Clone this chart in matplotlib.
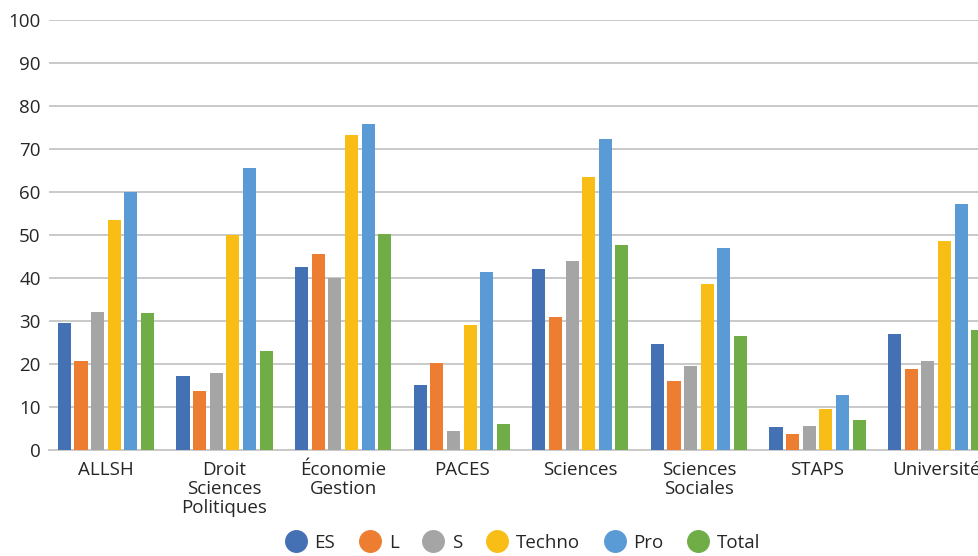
import matplotlib
matplotlib.use("Agg")
import matplotlib.pyplot as plt
from matplotlib.lines import Line2D
import numpy as np

categories = ["ALLSH", "Droit\nSciences\nPolitiques", "Économie\nGestion", "PACES",
              "Sciences", "Sciences\nSociales", "STAPS", "Université"]
series_names = ["ES", "L", "S", "Techno", "Pro", "Total"]
es = [29.5, 17.2, 42.5, 15.1, 42.1, 24.6, 5.3, 27.0]
l_ = [20.7, 13.7, 45.5, 20.2, 30.9, 16.0, 3.7, 18.8]
s_ = [32.1, 17.9, 40.0, 4.4, 43.9, 19.5, 5.5, 20.7]
techno = [53.4, 50.0, 73.2, 29.0, 63.4, 38.6, 9.5, 48.6]
pro = [60.0, 65.5, 75.8, 41.4, 72.3, 46.9, 12.8, 57.2]
total = [31.8, 23.0, 50.2, 6.0, 47.6, 26.5, 7.0, 27.9]
yticks = [0, 10, 20, 30, 40, 50, 60, 70, 80, 90, 100]

colors = ["#4470B4", "#ED7D31", "#A5A5A5", "#F8BE16", "#5B9BD5", "#70AD47"]
values = [es, l_, s_, techno, pro, total]

plt.rcParams['font.family'] = ['Open Sans', 'DejaVu Sans']

W, H = 979, 556
fig = plt.figure(figsize=(W / 100, H / 100), dpi=100)
left_px, right_px = 49, 49 + 8 * 118.6
bottom_px, top_px = 450, 19.7
ax = fig.add_axes([left_px / W, (H - bottom_px) / H, (right_px - left_px) / W, (bottom_px - top_px) / H])

x = np.arange(len(categories))
step = 0.14
width = 0.11
for i, (name, vals, c) in enumerate(zip(series_names, values, colors)):
    ax.bar(x + (i - 2.5) * step, vals, width=width, color=c, label=name, zorder=3)

ax.set_xlim(-0.48, 7.52)
ax.set_ylim(0, 100)
ax.set_yticks(yticks)
ax.yaxis.grid(True, color="#C9C9C9", linewidth=1.4, zorder=0)
ax.set_axisbelow(True)
for sp in ["top", "right", "left"]:
    ax.spines[sp].set_visible(False)
ax.spines["bottom"].set_color("#C9C9C9")
ax.spines["bottom"].set_linewidth(1.4)
ax.tick_params(axis="both", length=0, labelsize=13.5, colors="#262626")
ax.tick_params(axis="y", pad=6)
ax.tick_params(axis="x", pad=8)
ax.set_xticks(x)
ax.set_xticklabels(categories, linespacing=1.08)

handles = [Line2D([0], [0], marker="o", linestyle="", markersize=15.5,
                  markerfacecolor=c, markeredgecolor=c) for c in colors]
fig.legend(handles, series_names, loc="center", bbox_to_anchor=(523 / W, 13 / H),
           ncol=6, frameon=False, fontsize=13.5, handletextpad=0.45, columnspacing=1.3,
           handlelength=1.1, labelcolor="#262626", borderpad=0.1)

fig.savefig("out.png", dpi=100)
